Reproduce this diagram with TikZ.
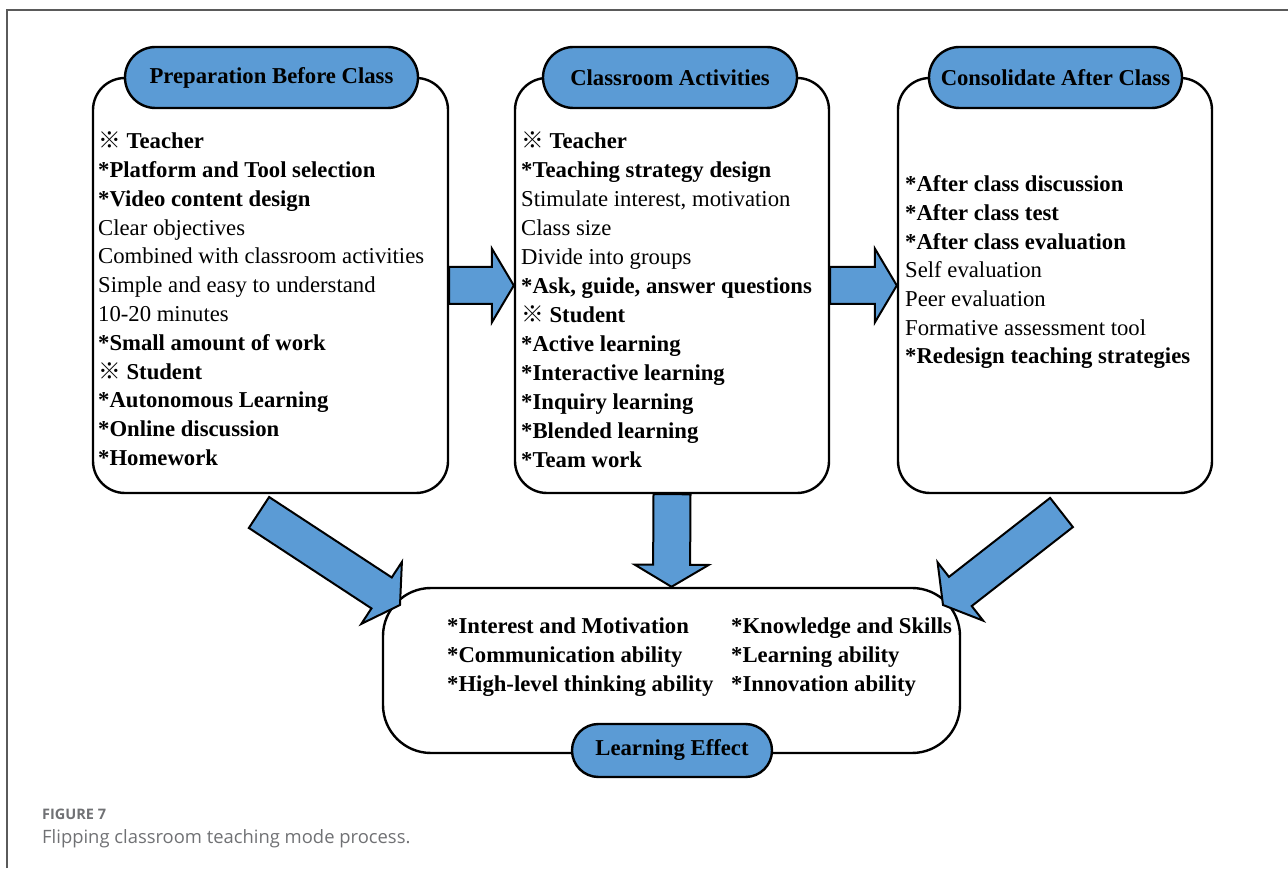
\documentclass[tikz,border=0pt]{standalone}
\usepackage{fontspec}
\setmainfont{Liberation Serif}
\newfontfamily\cjk{Noto Sans CJK SC}
\newfontfamily\capfont{Open Sans}
\usetikzlibrary{calc}
\definecolor{pillblue}{HTML}{5B9BD5}
\definecolor{framegray}{HTML}{5A5A5A}
\definecolor{capgray}{HTML}{707174}
\newcommand{\refmark}{{\cjk\mdseries ※}\ }
\newcommand{\blockarrow}[2]{%
  \filldraw[barrow] let \p1=(#1), \p2=(#2),
    \n1={atan2(\y2-\y1,\x2-\x1)},
    \n2={veclen(\x2-\x1,\y2-\y1)-22pt} in
    ($(\p1)+({\n1+90}:18.5pt)$) --
    ($(\p1)+(\n1:\n2)+({\n1+90}:18.5pt)$) --
    ($(\p1)+(\n1:\n2)+({\n1+90}:37pt)$) --
    (\p2) --
    ($(\p1)+(\n1:\n2)+({\n1-90}:37pt)$) --
    ($(\p1)+(\n1:\n2)+({\n1-90}:18.5pt)$) --
    ($(\p1)+({\n1-90}:18.5pt)$) -- cycle;}
\begin{document}
\begin{tikzpicture}[x=1pt,y=1pt,
  box/.style={draw=black, line width=2.4pt, fill=white, inner sep=0pt},
  pill/.style={draw=black, line width=2.4pt, fill=pillblue, inner sep=0pt,
    font=\fontsize{22.7}{26}\selectfont\bfseries},
  body/.style={anchor=base west, align=left, inner sep=0pt,
    font=\fontsize{22.7}{28.8}\selectfont},
  barrow/.style={draw=black, line width=2pt, fill=pillblue, line join=miter},
  captxt/.style={anchor=base west, inner sep=0pt, text=capgray}]

\useasboundingbox (0,0) rectangle (1288,868);
\draw[framegray, line width=1.5pt] (7,0) -- (7,858) -- (1288,858);

% main boxes
\node[box, rounded corners=32pt, minimum width=355pt, minimum height=415pt] (b1) at (270.5,582.5) {};
\node[box, rounded corners=32pt, minimum width=314pt, minimum height=415pt] (b2) at (672,582.5) {};
\node[box, rounded corners=32pt, minimum width=314pt, minimum height=415pt] (b3) at (1055,582.5) {};
\node[box, rounded corners=48pt, minimum width=577pt, minimum height=165pt] (b4) at (671.5,197.5) {};

% header pills
\node[pill, rounded corners=30.5pt, minimum width=293pt, minimum height=61pt] (p1) at (271.5,790.5) {Preparation Before Class};
\node[pill, rounded corners=30.5pt, minimum width=254pt, minimum height=61pt] (p2) at (670,790.5) {Classroom Activities};
\node[pill, rounded corners=30.5pt, minimum width=253pt, minimum height=61pt] (p3) at (1055.5,790.5) {Consolidate After Class};
\node[pill, rounded corners=26.5pt, minimum width=200pt, minimum height=53pt] (p4) at (672,117.5) {Learning Effect};

% texts (anchor = baseline of the last line)
\node[body] (t1) at (98,402.5) {\refmark\textbf{Teacher}\\
\textbf{*Platform and Tool selection}\\
\textbf{*Video content design}\\
Clear objectives\\
Combined with classroom activities\\
Simple and easy to understand\\
10-20 minutes\\
\textbf{*Small amount of work}\\
\refmark\textbf{Student}\\
\textbf{*Autonomous Learning}\\
\textbf{*Online discussion}\\
\textbf{*Homework}};

\node[body, font=\fontsize{22.7}{29}\selectfont] (t2) at (521,400) {\refmark\textbf{Teacher}\\
\textbf{*Teaching strategy design}\\
Stimulate interest, motivation\\
Class size\\
Divide into groups\\
\textbf{*Ask, guide, answer questions}\\
\refmark\textbf{Student}\\
\textbf{*Active learning}\\
\textbf{*Interactive learning}\\
\textbf{*Inquiry learning}\\
\textbf{*Blended learning}\\
\textbf{*Team work}};

\node[body, font=\fontsize{22.7}{28.7}\selectfont] (t3) at (905,504) {\textbf{*After class discussion}\\
\textbf{*After class test}\\
\textbf{*After class evaluation}\\
Self evaluation\\
Peer evaluation\\
Formative assessment tool\\
\textbf{*Redesign teaching strategies}};

\node[body, font=\fontsize{22.7}{29}\selectfont\bfseries] (t4a) at (447,176) {*Interest and Motivation\\
*Communication ability\\
*High-level thinking ability};
\node[body, font=\fontsize{22.7}{29}\selectfont\bfseries] (t4b) at (731,176) {*Knowledge and Skills\\
*Learning ability\\
*Innovation ability};

% block arrows
\coordinate (dtail) at (259,355.5);
\coordinate (dtip) at (400,263);
\coordinate (etail) at (1061.5,355.5);
\coordinate (etip) at (943,263);
\blockarrow{b1.east}{b2.west}
\blockarrow{b2.east}{b3.west}
\blockarrow{b2.south}{b4.north}
\blockarrow{dtail}{dtip}
\blockarrow{etail}{etip}

% caption
\node[captxt, font=\capfont\bfseries\fontsize{14.5}{18}\selectfont] (cap1) at (42,49) {FIGURE 7};
\node[captxt, font=\capfont\fontsize{18.4}{22}\selectfont] (cap2) at (42,25) {Flipping classroom teaching mode process.};
\end{tikzpicture}
\end{document}
